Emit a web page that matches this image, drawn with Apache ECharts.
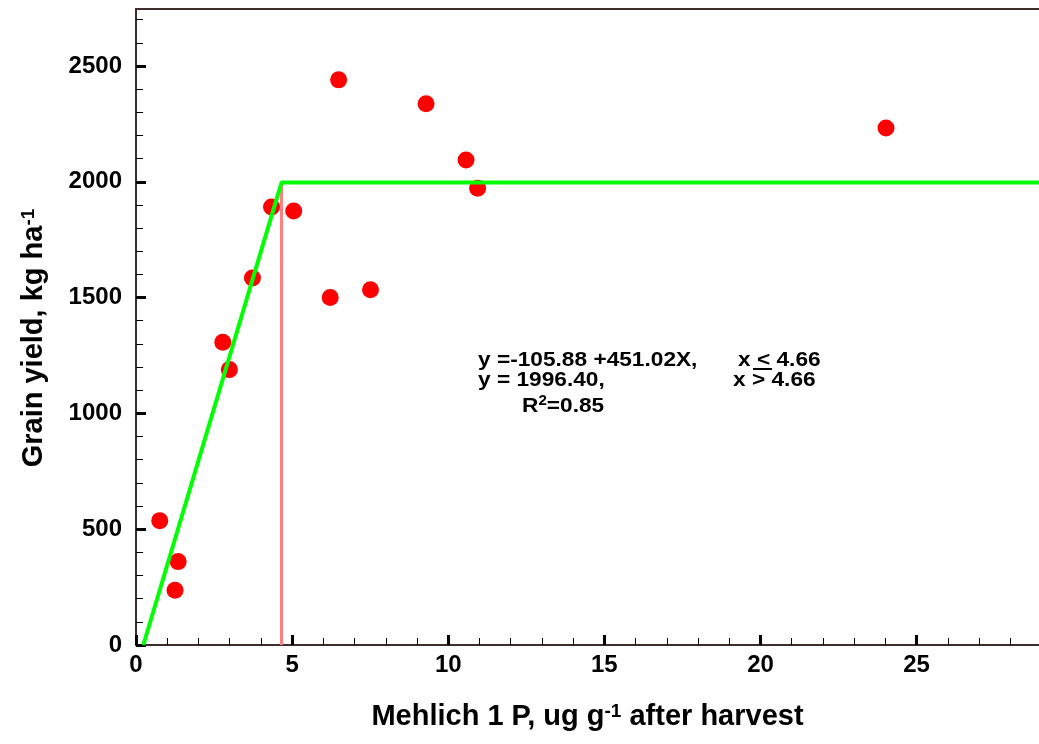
<!DOCTYPE html>
<html>
<head>
<meta charset="utf-8">
<script src="https://cdn.jsdelivr.net/npm/echarts@6/dist/echarts.min.js"></script>
<style>
html,body{margin:0;padding:0;background:#fff;}
#c{width:1039px;height:744px;}
</style>
</head>
<body>
<div id="c"></div>
<script>
// Observed data (Mehlich 1 P vs grain yield)
var pointX = [0.76, 1.25, 1.35, 2.78, 2.99, 3.73, 4.34, 5.05, 6.22, 6.49, 7.51, 9.29, 10.57, 10.94, 24.02];
var pointY = [537, 236, 360, 1307, 1189, 1585, 1891, 1874, 1500, 2440, 1534, 2337, 2094, 1972, 2232];

// Linear-plateau model line (from the printed equation)
var fitX = [0.235, 4.66, 28.92];
var fitY = [0, 1996.4, 1996.4];
// Critical level marker
var critX = [4.66, 4.66];
var critY = [0, 1996.4];

// Axis ranges and ticks
var xMin = 0, xMax = 28.92;
var yMin = 0, yMax = 2746;
var xMajor = [0, 5, 10, 15, 20, 25];
var xMinor = [0, 1, 2, 3, 4, 5, 6, 7, 8, 9, 10, 11, 12, 13, 14, 15, 16, 17, 18, 19, 20, 21, 22, 23, 24, 25, 26, 27, 28];
var yMajor = [0, 500, 1000, 1500, 2000, 2500];
var yMinor = [0, 100, 200, 300, 400, 500, 600, 700, 800, 900, 1000, 1100, 1200, 1300, 1400, 1500, 1600, 1700, 1800, 1900, 2000, 2100, 2200, 2300, 2400, 2500, 2600, 2700];

var eqLine1a = 'y =-105.88 +451.02X,';
var eqLine1b = 'x < 4.66';
var eqLine2a = 'y = 1996.40,';
var eqLine2b = 'x > 4.66';
var eqLine3 = '{a|R}{s|2}{a|=0.85}';

function zip(a, b) { return a.map(function (v, k) { return [v, b[k]]; }); }

var FF = '"Liberation Sans", Arial, sans-serif';
var axisCol = '#3f2c2c';

var chart = echarts.init(document.getElementById('c'), null, {renderer: 'canvas'});
var eqFont = 'bold 21px ' + FF;
var sx = 1.08;
var supStyle = {fontFamily: FF, fontWeight: 'bold', fontSize: 19, lineHeight: 14, verticalAlign: 'top', color: '#000'};
chart.setOption({
  animation: false,
  backgroundColor: '#fff',
  grid: {left: 136, top: 9, right: 0, bottom: 99, containLabel: false},
  xAxis: [
    {
      type: 'value', min: xMin, max: xMax, position: 'bottom',
      name: 'Mehlich 1 P, ug g{s|-1} after harvest',
      nameLocation: 'middle', nameGap: 57,
      nameTextStyle: {fontFamily: FF, fontWeight: 'bold', fontSize: 29, color: '#000', rich: {s: supStyle}},
      splitLine: {show: false},
      axisLine: {show: true, lineStyle: {color: axisCol, width: 2}},
      axisTick: {show: true, inside: true, length: 10, lineStyle: {color: '#000', width: 3}, customValues: xMajor},
      axisLabel: {show: true, margin: 8, fontFamily: FF, fontWeight: 'bold', fontSize: 24, color: '#000', customValues: xMajor,
        formatter: function (v) { return String(v); }}
    },
    {
      type: 'value', min: xMin, max: xMax, position: 'bottom',
      splitLine: {show: false},
      axisLine: {show: false},
      axisTick: {show: true, inside: true, length: 7, lineStyle: {color: '#000', width: 1}, customValues: xMinor},
      axisLabel: {show: false}
    },
    {
      type: 'value', min: xMin, max: xMax, position: 'top',
      splitLine: {show: false},
      axisLine: {show: true, lineStyle: {color: axisCol, width: 2}},
      axisTick: {show: false},
      axisLabel: {show: false}
    }
  ],
  yAxis: [
    {
      type: 'value', min: yMin, max: yMax, position: 'left',
      name: 'Grain yield, kg ha{s|-1}',
      nameLocation: 'middle', nameGap: 88,
      nameTextStyle: {fontFamily: FF, fontWeight: 'bold', fontSize: 29, color: '#000', padding: [0, 22, 0, 0], rich: {s: supStyle}},
      splitLine: {show: false},
      axisLine: {show: true, lineStyle: {color: axisCol, width: 2}},
      axisTick: {show: true, inside: true, length: 10, lineStyle: {color: '#000', width: 3}, customValues: yMajor},
      axisLabel: {show: true, margin: 14, fontFamily: FF, fontWeight: 'bold', fontSize: 24, color: '#000', customValues: yMajor,
        formatter: function (v) { return String(v); }}
    },
    {
      type: 'value', min: yMin, max: yMax, position: 'left',
      splitLine: {show: false},
      axisLine: {show: false},
      axisTick: {show: true, inside: true, length: 7, lineStyle: {color: '#000', width: 1}, customValues: yMinor},
      axisLabel: {show: false}
    }
  ],
  series: [
    {
      type: 'scatter', xAxisIndex: 0, yAxisIndex: 0,
      data: zip(pointX, pointY),
      symbol: 'circle', symbolSize: 17,
      itemStyle: {color: '#ff0000', opacity: 1},
      z: 2
    },
    {
      type: 'line', xAxisIndex: 0, yAxisIndex: 0,
      data: zip(critX, critY),
      symbol: 'none',
      lineStyle: {color: '#ff8080', width: 3},
      z: 3
    },
    {
      type: 'line', xAxisIndex: 0, yAxisIndex: 0,
      data: zip(fitX, fitY),
      symbol: 'none',
      lineStyle: {color: '#00ff00', width: 4},
      z: 4
    }
  ],
  graphic: [
    {type: 'text', x: 478, y: 360, scaleX: sx, z: 10,
      style: {text: eqLine1a, font: eqFont, fill: '#000', verticalAlign: 'middle'}},
    {type: 'text', x: 738, y: 360, scaleX: sx, z: 10,
      style: {text: eqLine1b, font: eqFont, fill: '#000', verticalAlign: 'middle'}},
    {type: 'line', z: 10, shape: {x1: 753, y1: 369, x2: 772, y2: 369},
      style: {stroke: '#000', lineWidth: 2}},
    {type: 'text', x: 478, y: 380.5, scaleX: sx, z: 10,
      style: {text: eqLine2a, font: eqFont, fill: '#000', verticalAlign: 'middle'}},
    {type: 'text', x: 733, y: 380.5, scaleX: sx, z: 10,
      style: {text: eqLine2b, font: eqFont, fill: '#000', verticalAlign: 'middle'}},
    {type: 'text', x: 522, y: 406.5, scaleX: sx, z: 10,
      style: {text: eqLine3, fill: '#000', verticalAlign: 'middle',
        rich: {
          a: {font: eqFont, lineHeight: 24, fill: '#000'},
          s: {font: 'bold 14px ' + FF, lineHeight: 13, verticalAlign: 'top', fill: '#000'}
        }}}
  ]
});
</script>
</body>
</html>
